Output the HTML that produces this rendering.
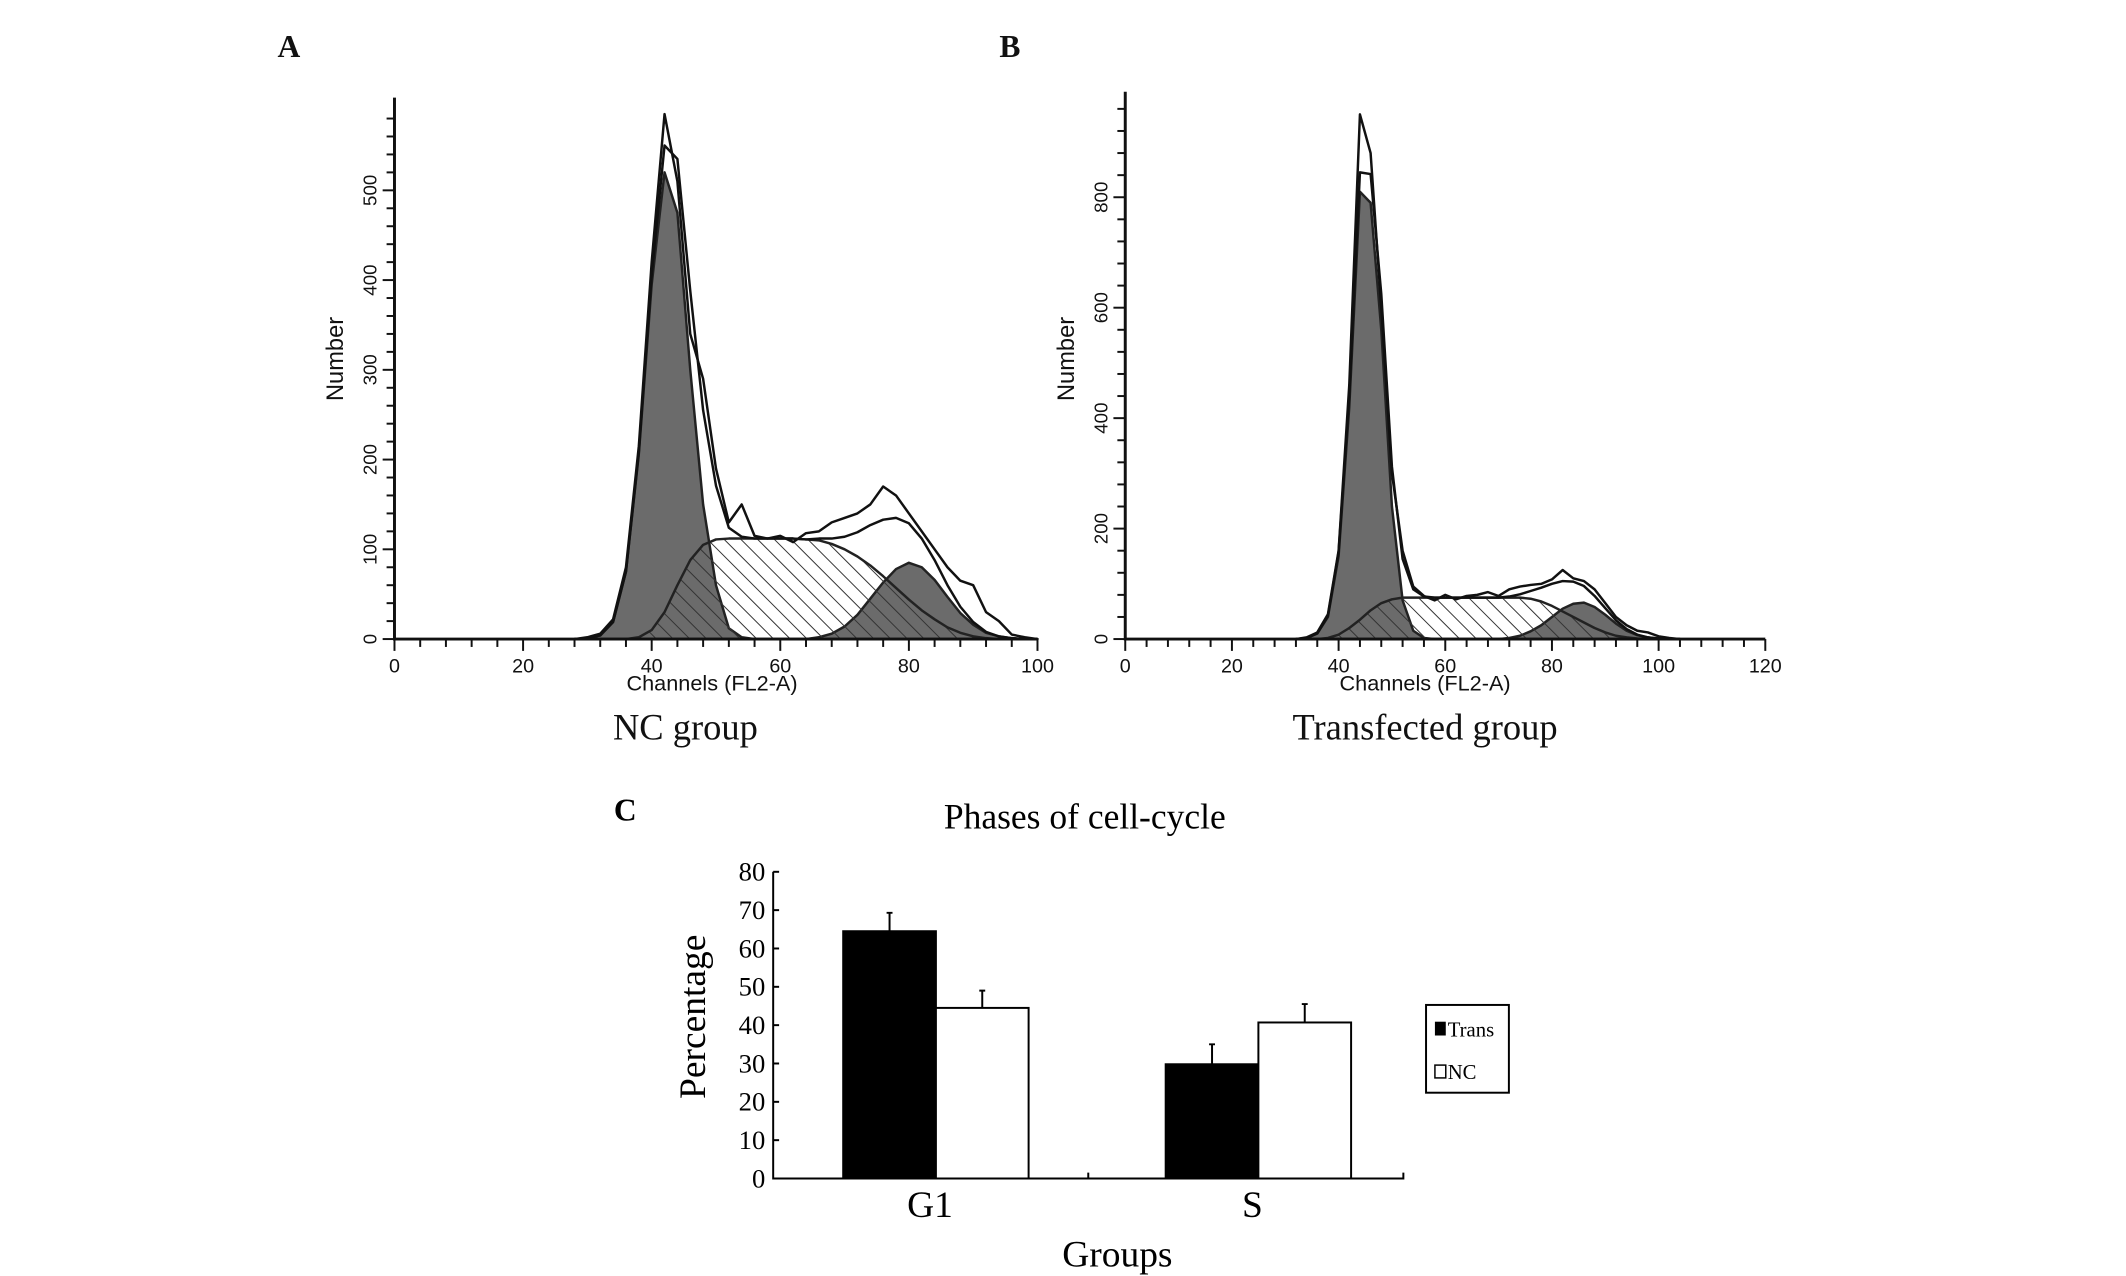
<!DOCTYPE html>
<html><head><meta charset="utf-8"><style>
body{margin:0;background:#fff}
svg{display:block}
</style></head><body>
<svg id="fig" xmlns="http://www.w3.org/2000/svg" width="2126" height="1276" viewBox="0 0 2126 1276">
<defs>
<pattern id="hatch" patternUnits="userSpaceOnUse" width="12" height="12" patternTransform="rotate(-45)">
<line x1="0" y1="0" x2="0" y2="12" stroke="#333" stroke-width="2"/>
</pattern>
</defs>
<g id="root" transform="scale(0.9862)"></g>
</svg>
<script>
// ---- Panel A data (channels 28..100 step 2)
const chA = [28,30,32,34,36,38,40,42,44,46,48,50,52,54,56,58,60,62,64,66,68,70,72,74,76,78,80,82,84,86,88,90,92,94,96,98,100];
const g1A = [0,1,4,19,75,206,395,520,475,300,150,60,12,2,0,0,0,0,0,0,0,0,0,0,0,0,0,0,0,0,0,0,0,0,0,0,0];
const sA  = [0,0,0,0,0,2,10,30,60,88,105,111,112,112,112,112,112,112,111,110,106,100,92,82,70,57,44,32,22,13,7,3,1,0,0,0,0];
const g2A = [0,0,0,0,0,0,0,0,0,0,0,0,0,0,0,0,0,0,0,2,6,14,27,45,63,78,85,80,66,47,29,16,7,3,1,0,0];
const rawA= [0,2,6,22,80,215,420,585,510,340,290,190,130,150,115,112,115,108,118,120,130,135,140,150,170,160,140,120,100,80,65,60,30,20,5,2,0];
// ---- Panel B data (channels 32..104 step 2)
const chB = [32,34,36,38,40,42,44,46,48,50,52,54,56,58,60,62,64,66,68,70,72,74,76,78,80,82,84,86,88,90,92,94,96,98,100,102,104];
const g1B = [0,2,10,40,150,420,810,790,560,240,70,15,2,0,0,0,0,0,0,0,0,0,0,0,0,0,0,0,0,0,0,0,0,0,0,0,0];
const sB  = [0,0,0,2,8,20,35,52,65,72,75,75,75,75,75,75,75,75,75,75,75,75,73,68,60,50,40,30,20,12,6,3,1,0,0,0,0];
const g2B = [0,0,0,0,0,0,0,0,0,0,0,0,0,0,0,0,0,0,0,0,2,6,14,25,40,55,64,66,58,44,28,15,7,3,1,0,0];
const rawB= [0,3,12,45,160,460,950,880,600,300,160,95,78,70,80,72,78,80,85,78,90,95,98,100,108,125,110,105,90,65,40,25,15,12,5,2,0];
// ---- Panel C data
const groups = ["G1","S"];
const transVals = [64.5,29.8];
const transErr = [4.8,5.2];
const ncVals = [44.5,40.7];
const ncErr = [4.5,4.8];
const cTicks = [0,10,20,30,40,50,60,70,80];

const NS="http://www.w3.org/2000/svg";
const root=document.getElementById('root');
function mk(tag,attrs,parent){const e=document.createElementNS(NS,tag);for(const k in attrs)e.setAttribute(k,attrs[k]);(parent||root).appendChild(e);return e;}
function txt(s,attrs,parent){const e=mk('text',attrs,parent);e.textContent=s;return e;}

function histogram(cfg){
  const g=mk('g',{});
  
  
  const X=v=>cfg.x0+(v-cfg.xmin)/(cfg.xmax-cfg.xmin)*(cfg.x1-cfg.x0);
  const Y=v=>cfg.y0-v/cfg.yunit*cfg.ypx;
  function area(vals,fill,nm){
    let d='M'+X(cfg.ch[0])+','+Y(0);
    cfg.ch.forEach((c,i)=>{d+=' L'+X(c)+','+Y(vals[i]);});
    d+=' L'+X(cfg.ch[cfg.ch.length-1])+','+Y(0)+' Z';
    const p=mk('path',{d:d,fill:fill,stroke:'#222','stroke-width':2.5,'stroke-linejoin':'round'},g);
    
    
  }
  function line(vals,nm){
    let d='';cfg.ch.forEach((c,i)=>{d+=(i?' L':'M')+X(c)+','+Y(vals[i]);});
    const p=mk('path',{d:d,fill:'none',stroke:'#111','stroke-width':2.5,'stroke-linejoin':'round'},g);
    
    
  }
  area(cfg.g1,'#6b6b6b','g1-peak');
  area(cfg.g2,'#6b6b6b','g2-peak');
  area(cfg.s,'url(#hatch)','s-phase');
  const fit=cfg.ch.map((c,i)=>cfg.g1[i]+cfg.s[i]+cfg.g2[i]);
  line(fit,'fit-line');
  line(cfg.raw,'raw-data-line');
  const ax=mk('path',{d:`M${cfg.x0},${cfg.ytop} L${cfg.x0},${cfg.y0} L${cfg.x1},${cfg.y0}`,fill:'none',stroke:'#111','stroke-width':3},g);
  
  
  for(let v=cfg.xmin;v<=cfg.xmax;v+=4){
    mk('line',{x1:X(v),x2:X(v),y1:cfg.y0,y2:cfg.y0+(v%20===0?12:8),stroke:'#111','stroke-width':2},g);
    if(v%20===0){
      const t=txt(String(v),{x:X(v),y:cfg.y0+34,'text-anchor':'middle','font-family':'Liberation Sans, sans-serif','font-size':20,fill:'#111'},g);
      
      
    }
  }
  for(let v=0;Y(v)>=cfg.ytop+4;v+=cfg.yminor){
    const major=v%cfg.yunit===0;
    mk('line',{x1:cfg.x0,x2:cfg.x0-(major?12:8),y1:Y(v),y2:Y(v),stroke:'#111','stroke-width':2},g);
    if(major && v<=cfg.maxLabel){
      const t=txt(String(v),{transform:`translate(${cfg.x0-18},${Y(v)}) rotate(-90)`,'text-anchor':'middle','font-family':'Liberation Sans, sans-serif','font-size':19,fill:'#111'},g);
      
      
    }
  }
  const yl=txt('Number',{transform:`translate(${cfg.x0-52},${cfg.ylabY}) rotate(-90)`,'text-anchor':'middle','font-family':'Liberation Sans, sans-serif','font-size':24,fill:'#111'},g);
  
  
  const xl=txt('Channels  (FL2-A)',{x:cfg.xlabX,y:cfg.y0+52,'text-anchor':'middle','font-family':'Liberation Sans, sans-serif','font-size':22,fill:'#111'},g);
  
  
  const gl=txt(cfg.group,{x:cfg.groupX,y:cfg.y0+102,'text-anchor':'middle','font-family':'Liberation Serif, serif','font-size':37,fill:'#111'},g);
  
  
  const pl=txt(cfg.letter,{x:cfg.letterX,y:58,'text-anchor':'middle','font-family':'Liberation Serif, serif','font-weight':'bold','font-size':32,fill:'#111'},g);
  
  
}

histogram({name:'histogram-nc',ch:chA,g1:g1A,s:sA,g2:g2A,raw:rawA,x0:400,x1:1052,xmin:0,xmax:100,y0:648,ytop:99,yunit:100,ypx:91,yminor:20,maxLabel:500,ylabY:364,xlabX:722,groupX:695,group:'NC group',letter:'A',letterX:293});
histogram({name:'histogram-transfected',ch:chB,g1:g1B,s:sB,g2:g2B,raw:rawB,x0:1141,x1:1790,xmin:0,xmax:120,y0:648,ytop:93,yunit:200,ypx:112,yminor:40,maxLabel:800,ylabY:364,xlabX:1445,groupX:1445,group:'Transfected group',letter:'B',letterX:1024});

// ---- Panel C bar chart
(function(){
  const g=mk('g',{});
  
  
  const x0=784,x1=1423,y0=1195,ytop=884;
  const Y=v=>y0-v/80*(y0-ytop);
  const bw=94;
  const centers=[949,1276];
  const f='Liberation Serif, serif';
  groups.forEach((gname,i)=>{
    const c=centers[i];
    [[transVals,transErr,'#000','trans'],[ncVals,ncErr,'#fff','nc']].forEach((s,j)=>{
      const v=s[0][i],e=s[1][i];
      const bx=j===0?c-bw:c;
      const bar=mk('rect',{x:bx,y:Y(v),width:bw,height:y0-Y(v),fill:s[2],stroke:'#000','stroke-width':2},g);
      
      
      const cx=bx+bw/2;
      const eb=mk('path',{d:`M${cx},${Y(v)} L${cx},${Y(v+e)} M${cx-3},${Y(v+e)} L${cx+3},${Y(v+e)}`,stroke:'#000','stroke-width':2,fill:'none'},g);
      
      
    });
    const t=txt(gname,{x:c-6,y:1234,'text-anchor':'middle','font-family':f,'font-size':38,fill:'#000'},g);
    
    
  });
  const ax=mk('path',{d:`M${x0},${ytop} L${x0},${y0} L${x1},${y0} L${x1},${y0-6} M${(x0+x1)/2},${y0} L${(x0+x1)/2},${y0-6}`,fill:'none',stroke:'#000','stroke-width':2},g);
  
  
  cTicks.forEach(v=>{
    mk('line',{x1:x0,x2:x0+6,y1:Y(v),y2:Y(v),stroke:'#000','stroke-width':2},g);
    const t=txt(String(v),{x:x0-8,y:Y(v)+9,'text-anchor':'end','font-family':f,'font-size':27,fill:'#000'},g);
    
    
  });
  const yl=txt('Percentage',{transform:'translate(715,1031) rotate(-90)','text-anchor':'middle','font-family':f,'font-size':38,fill:'#000'},g);
  
  
  const xl=txt('Groups',{x:1133,y:1284,'text-anchor':'middle','font-family':f,'font-size':38,fill:'#000'},g);
  
  
  const ti=txt('Phases of cell-cycle',{x:1100,y:840,'text-anchor':'middle','font-family':f,'font-size':36,fill:'#000'},g);
  
  
  const pl=txt('C',{x:634,y:832,'text-anchor':'middle','font-family':f,'font-weight':'bold','font-size':32,fill:'#000'},g);
  
  
  const lg=mk('g',{},g);
  
  
  mk('rect',{x:1446,y:1019,width:84,height:89,fill:'#fff',stroke:'#000','stroke-width':2},lg);
  mk('rect',{x:1455,y:1036,width:11,height:14,fill:'#000'},lg);
  const l1=txt('Trans',{x:1468,y:1051,'font-family':f,'font-size':21,fill:'#000'},lg);
  
  
  mk('rect',{x:1455,y:1080,width:11,height:13,fill:'#fff',stroke:'#000','stroke-width':1.5},lg);
  const l2=txt('NC',{x:1468,y:1094,'font-family':f,'font-size':21,fill:'#000'},lg);
  
  
})();
</script>
</body></html>
